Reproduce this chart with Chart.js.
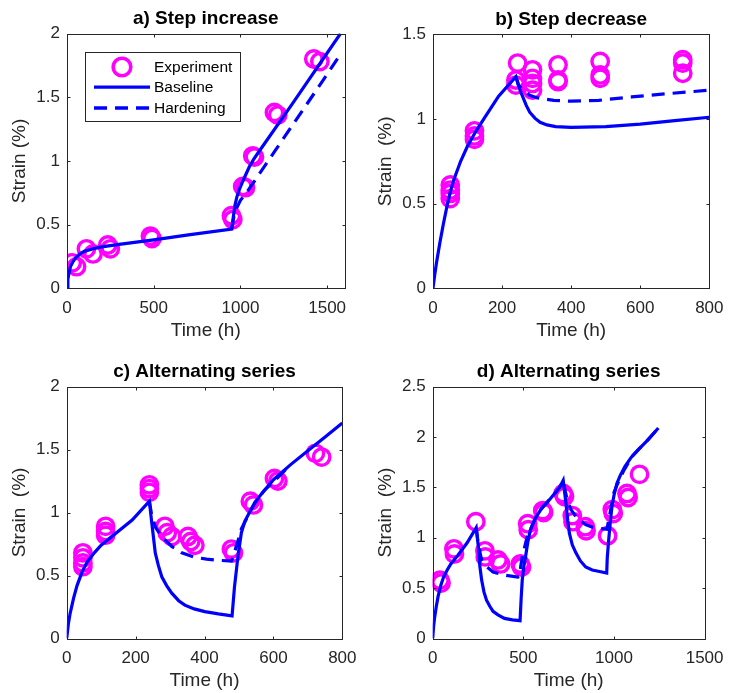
<!DOCTYPE html>
<html>
<head>
<meta charset="utf-8">
<script src="https://cdn.jsdelivr.net/npm/chart.js@4.4.1/dist/chart.umd.min.js"></script>
<style>
  body { margin: 0; background: #fff; }
  #wrap { position: relative; width: 733px; height: 693px; }
  canvas { position: absolute; }
</style>
</head>
<body>
<div id="wrap">
  <canvas id="cA" width="366" height="346" style="left:0;top:0"></canvas>
  <canvas id="cB" width="367" height="346" style="left:366px;top:0"></canvas>
  <canvas id="cC" width="366" height="347" style="left:0;top:346px"></canvas>
  <canvas id="cD" width="367" height="347" style="left:366px;top:346px"></canvas>
</div>
<script>
'use strict';

// a) Step increase
const aExpX = [30, 55, 112, 150, 235, 250, 481, 490, 948, 956, 1013, 1029, 1071, 1081, 1196, 1215, 1423, 1458];
const aExpY = [0.20, 0.17, 0.31, 0.27, 0.34, 0.31, 0.41, 0.39, 0.57, 0.54, 0.80, 0.79, 1.04, 1.03, 1.38, 1.36, 1.80, 1.78];
const aBaseX = [0, 5, 10, 20, 35, 50, 75, 100, 150, 200, 300, 500, 700, 950, 958, 968, 980, 995, 1020, 1050, 1075, 1100, 1300, 1577];
const aBaseY = [0, 0.07, 0.11, 0.17, 0.21, 0.24, 0.27, 0.29, 0.31, 0.325, 0.345, 0.38, 0.42, 0.465, 0.55, 0.65, 0.72, 0.78, 0.86, 0.95, 1.01, 1.06, 1.45, 2.0];
const aHardX = [950, 960, 975, 1000, 1050, 1100, 1200, 1300, 1400, 1500, 1578];
const aHardY = [0.465, 0.55, 0.62, 0.69, 0.78, 0.88, 1.08, 1.28, 1.48, 1.68, 1.84];

// b) Step decrease
const bExpX = [50, 50, 50, 50, 120, 120, 120, 245, 240, 240, 288, 288, 288, 288, 362, 362, 362, 484, 484, 484, 723, 723, 723];
const bExpY = [0.61, 0.58, 0.56, 0.53, 0.93, 0.90, 0.88, 1.33, 1.23, 1.20, 1.29, 1.24, 1.21, 1.17, 1.32, 1.23, 1.22, 1.34, 1.26, 1.24, 1.35, 1.33, 1.27];
const bBaseX = [0, 5, 10, 20, 30, 40, 50, 60, 80, 100, 125, 150, 190, 240, 245, 252, 260, 270, 280, 295, 310, 330, 355, 400, 500, 600, 700, 800];
const bBaseY = [0, 0.08, 0.15, 0.27, 0.38, 0.48, 0.57, 0.64, 0.75, 0.84, 0.93, 1.01, 1.135, 1.25, 1.22, 1.17, 1.13, 1.08, 1.04, 1.005, 0.98, 0.965, 0.955, 0.95, 0.955, 0.97, 0.99, 1.01];
const bHardX = [240, 247, 262, 280, 300, 350, 400, 480, 575, 670, 800];
const bHardY = [1.25, 1.20, 1.17, 1.14, 1.125, 1.11, 1.105, 1.11, 1.13, 1.148, 1.17];

// c) Alternating series
const cExpX = [47, 47, 47, 47, 113, 113, 113, 240, 240, 240, 285, 292, 305, 352, 360, 372, 478, 484, 533, 542, 603, 613, 722, 740];
const cExpY = [0.68, 0.64, 0.60, 0.57, 0.89, 0.85, 0.82, 1.22, 1.19, 1.16, 0.89, 0.84, 0.81, 0.81, 0.77, 0.74, 0.71, 0.68, 1.09, 1.06, 1.27, 1.25, 1.47, 1.44];
const cBaseX = [0, 5, 10, 20, 30, 45, 60, 80, 100, 140, 190, 240, 246, 252, 257, 266, 276, 290, 305, 325, 343, 370, 401, 440, 480, 487, 497, 507, 517, 536, 560, 600, 650, 700, 750, 800];
const cBaseY = [0, 0.12, 0.20, 0.32, 0.42, 0.53, 0.61, 0.68, 0.74, 0.83, 0.94, 1.09, 0.94, 0.80, 0.68, 0.58, 0.49, 0.42, 0.36, 0.30, 0.265, 0.235, 0.213, 0.195, 0.18, 0.41, 0.65, 0.84, 0.93, 1.03, 1.13, 1.26, 1.38, 1.49, 1.60, 1.71];
const cHardX = [240, 246, 258, 276, 290, 305, 334, 372, 406, 444, 478, 485, 492, 500, 507, 522, 546, 575, 603, 650];
const cHardY = [1.09, 0.99, 0.88, 0.81, 0.77, 0.73, 0.68, 0.645, 0.63, 0.62, 0.615, 0.66, 0.73, 0.80, 0.87, 0.95, 1.08, 1.18, 1.25, 1.38];

// d) Alternating series
const dExpX = [40, 46, 117, 120, 238, 288, 290, 360, 375, 483, 490, 524, 527, 607, 612, 720, 727, 770, 774, 842, 846, 965, 991, 996, 1072, 1078, 1141];
const dExpY = [0.58, 0.55, 0.89, 0.84, 1.16, 0.87, 0.81, 0.78, 0.74, 0.74, 0.71, 1.14, 1.08, 1.27, 1.25, 1.44, 1.41, 1.22, 1.16, 1.11, 1.07, 1.02, 1.28, 1.24, 1.44, 1.40, 1.63];
const dBaseX = [0, 5, 10, 20, 30, 45, 60, 80, 100, 140, 190, 240, 252, 260, 270, 283, 297, 315, 333, 360, 396, 440, 482, 488, 494, 503, 512, 525, 539, 565, 600, 650, 700, 720, 728, 737, 745, 754, 770, 790, 815, 844, 880, 920, 960, 963, 971, 980, 989, 1000, 1016, 1035, 1061, 1096, 1132, 1186, 1245];
const dBaseY = [0, 0.12, 0.20, 0.32, 0.42, 0.53, 0.61, 0.68, 0.74, 0.83, 0.95, 1.10, 0.91, 0.72, 0.58, 0.46, 0.38, 0.32, 0.27, 0.235, 0.20, 0.185, 0.177, 0.40, 0.58, 0.72, 0.81, 0.96, 1.08, 1.19, 1.29, 1.39, 1.50, 1.57, 1.45, 1.31, 1.17, 1.045, 0.93, 0.85, 0.77, 0.71, 0.68, 0.665, 0.65, 0.80, 0.98, 1.16, 1.31, 1.42, 1.54, 1.62, 1.71, 1.80, 1.87, 1.97, 2.09];
const dHardX = [240, 250, 260, 270, 300, 333, 396, 470, 480, 485, 494, 521, 539, 565, 600, 650, 700, 720, 730, 745, 763, 790, 808, 844, 890, 933, 960, 965, 971, 980, 998, 1016, 1052, 1078, 1096, 1132, 1186, 1245];
const dHardY = [1.10, 0.96, 0.86, 0.78, 0.71, 0.66, 0.63, 0.61, 0.62, 0.71, 0.81, 1.01, 1.08, 1.19, 1.29, 1.39, 1.50, 1.57, 1.47, 1.36, 1.28, 1.21, 1.18, 1.13, 1.10, 1.09, 1.085, 1.12, 1.18, 1.26, 1.44, 1.52, 1.66, 1.74, 1.80, 1.87, 1.97, 2.09];

// ticks
const xTicks1600 = [0, 500, 1000, 1500];
const xTicks800 = [0, 200, 400, 600, 800];
const xTicks1500 = [0, 500, 1000, 1500];
const yTicks2 = [0, 0.5, 1, 1.5, 2];
const yTicks15 = [0, 0.5, 1, 1.5];
const yTicks25 = [0, 0.5, 1, 1.5, 2, 2.5];

const MAGENTA = '#ff00ff';
const BLUE = '#0000ff';
const AXIS = '#262626';
const FONT = "'Liberation Sans', Arial, Helvetica, sans-serif";

function pts(xs, ys) {
  return xs.map((x, i) => ({ x: x, y: ys[i] }));
}

// caja completa con marcas hacia dentro (estilo matlab)
const boxPlugin = {
  id: 'matBox',
  afterDraw(chart) {
    const { ctx, chartArea: a, scales } = chart;
    const L = Math.round(a.left) + 0.5, R = Math.round(a.right) + 0.5;
    const T = Math.round(a.top) + 0.5, B = Math.round(a.bottom) + 0.5;
    ctx.save();
    ctx.strokeStyle = AXIS;
    ctx.lineWidth = 1;
    ctx.strokeRect(L, T, R - L, B - T);
    ctx.beginPath();
    scales.x.ticks.forEach(t => {
      const px = Math.round(scales.x.getPixelForValue(t.value)) + 0.5;
      ctx.moveTo(px, B); ctx.lineTo(px, B - 3);
      ctx.moveTo(px, T); ctx.lineTo(px, T + 3);
    });
    scales.y.ticks.forEach(t => {
      const py = Math.round(scales.y.getPixelForValue(t.value)) + 0.5;
      ctx.moveTo(L, py); ctx.lineTo(L + 3, py);
      ctx.moveTo(R, py); ctx.lineTo(R - 3, py);
    });
    ctx.stroke();
    ctx.restore();
  }
};

// leyenda dentro del panel a
const legendPlugin = {
  id: 'boxLegend',
  afterDraw(chart, args, opts) {
    if (!opts.show) return;
    const ctx = chart.ctx;
    const rows = [67.5, 88, 108.8];
    ctx.save();
    ctx.fillStyle = '#fff';
    ctx.fillRect(85.5, 52.5, 155, 69);
    ctx.strokeStyle = AXIS;
    ctx.lineWidth = 1;
    ctx.strokeRect(85.5, 52.5, 155, 69);
    chart.data.datasets.forEach((ds, i) => {
      const yy = rows[i];
      ctx.strokeStyle = ds.borderColor;
      if (ds.showLine === false) {
        ctx.lineWidth = 3.6;
        ctx.setLineDash([]);
        ctx.beginPath();
        ctx.arc(122, yy - 0.5, 8.8, 0, Math.PI * 2);
        ctx.stroke();
      } else {
        ctx.lineWidth = 3.3;
        ctx.setLineDash(ds.borderDash || []);
        ctx.beginPath();
        ctx.moveTo(94, yy - 0.8);
        ctx.lineTo(150, yy - 0.8);
        ctx.stroke();
      }
      ctx.setLineDash([]);
      ctx.fillStyle = '#000';
      ctx.font = '15.5px ' + FONT;
      ctx.textBaseline = 'middle';
      ctx.textAlign = 'left';
      ctx.fillText(ds.label, 154, yy);
    });
    ctx.restore();
  }
};

function makePanel(id, p) {
  const cv = document.getElementById(id);
  const W = cv.width, H = cv.height;
  const tlh = 19 * 1.2;
  const box = p.box;
  return new Chart(cv, {
    type: 'scatter',
    data: {
      datasets: [
        { label: 'Experiment', data: pts(p.expX, p.expY), showLine: false, pointStyle: 'circle',
          pointRadius: 8.2, pointBorderWidth: 3.4, borderColor: MAGENTA, pointBorderColor: MAGENTA,
          backgroundColor: 'rgba(0,0,0,0)', pointBackgroundColor: 'rgba(0,0,0,0)', order: 2 },
        { label: 'Baseline', data: pts(p.baseX, p.baseY), showLine: true, borderColor: BLUE,
          borderWidth: 3.2, pointRadius: 0, tension: 0, fill: false, order: 1 },
        { label: 'Hardening', data: pts(p.hardX, p.hardY), showLine: true, borderColor: BLUE,
          borderWidth: 3.2, borderDash: [13, 8], pointRadius: 0, tension: 0, fill: false, order: 0 }
      ]
    },
    options: {
      responsive: false,
      animation: false,
      devicePixelRatio: 1,
      events: [],
      layout: { padding: { left: 0, top: 0, right: W - box.r, bottom: H - box.b - 54 } },
      plugins: {
        legend: { display: false },
        tooltip: { enabled: false },
        title: {
          display: true, text: p.title, fullSize: false, color: '#000',
          font: { family: FONT, size: 19, weight: 'bold' },
          padding: { top: box.t - 15 - tlh / 2, bottom: 15 - tlh / 2 }
        },
        boxLegend: { show: !!p.legend }
      },
      scales: {
        x: {
          type: 'linear', min: 0, max: p.xMax,
          afterBuildTicks: s => { s.ticks = p.xTicks.map(v => ({ value: v })); },
          afterFit: s => { s.height = 54; },
          grid: { display: false, drawTicks: false },
          border: { display: false },
          ticks: { padding: 9.5, color: AXIS, font: { family: FONT, size: 17 }, autoSkip: false, maxRotation: 0,
                   callback: v => String(v) },
          title: { display: true, text: 'Time (h)', color: AXIS, font: { family: FONT, size: 19 }, padding: 0 }
        },
        y: {
          type: 'linear', min: 0, max: p.yMax,
          afterBuildTicks: s => { s.ticks = p.yTicks.map(v => ({ value: v })); },
          afterFit: s => { s.width = box.l; },
          grid: { display: false, drawTicks: false },
          border: { display: false },
          ticks: { padding: 7, color: AXIS, font: { family: FONT, size: 17 }, autoSkip: false,
                   callback: v => String(v) },
          title: { display: true, text: p.yLabel, color: AXIS, font: { family: FONT, size: 19 },
                   padding: { top: 8.3, bottom: 0 } }
        }
      }
    },
    plugins: [boxPlugin, legendPlugin]
  });
}

makePanel('cA', {
  title: 'a) Step increase', yLabel: 'Strain (%)', legend: true,
  box: { l: 67, r: 344.5, t: 33.5, b: 288.3 },
  xMax: 1600, xTicks: xTicks1600, yMax: 2, yTicks: yTicks2,
  expX: aExpX, expY: aExpY, baseX: aBaseX, baseY: aBaseY, hardX: aHardX, hardY: aHardY
});
makePanel('cB', {
  title: 'b) Step decrease', yLabel: 'Strain  (%)',
  box: { l: 67, r: 345.5, t: 34.3, b: 288.3 },
  xMax: 800, xTicks: xTicks800, yMax: 1.5, yTicks: yTicks15,
  expX: bExpX, expY: bExpY, baseX: bBaseX, baseY: bBaseY, hardX: bHardX, hardY: bHardY
});
makePanel('cC', {
  title: 'c) Alternating series', yLabel: 'Strain  (%)',
  box: { l: 66.7, r: 344.5, t: 40.5, b: 292.5 },
  xMax: 800, xTicks: xTicks800, yMax: 2, yTicks: yTicks2,
  expX: cExpX, expY: cExpY, baseX: cBaseX, baseY: cBaseY, hardX: cHardX, hardY: cHardY
});
makePanel('cD', {
  title: 'd) Alternating series', yLabel: 'Strain  (%)',
  box: { l: 66.7, r: 345.7, t: 40.7, b: 292.5 },
  xMax: 1500, xTicks: xTicks1500, yMax: 2.5, yTicks: yTicks25,
  expX: dExpX, expY: dExpY, baseX: dBaseX, baseY: dBaseY, hardX: dHardX, hardY: dHardY
});
</script>
</body>
</html>
